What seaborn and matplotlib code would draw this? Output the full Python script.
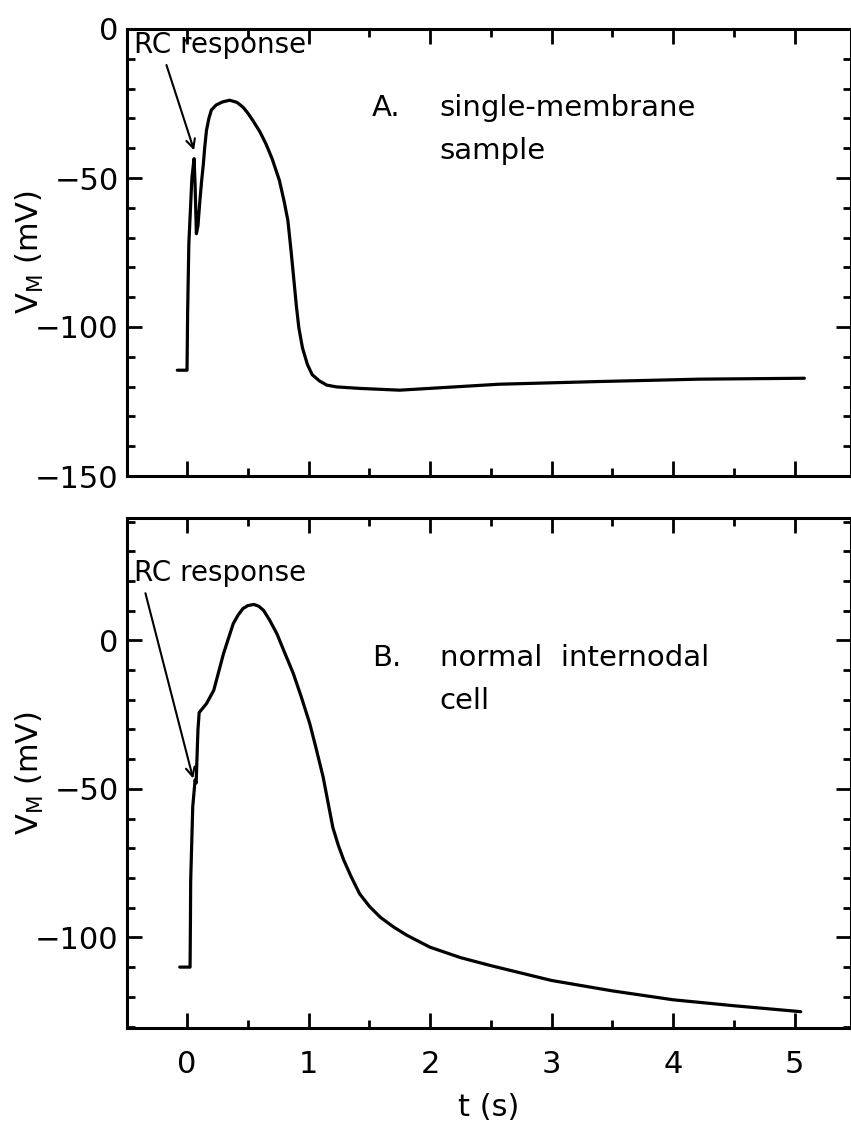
import numpy as np
import pandas as pd
import matplotlib
matplotlib.use("Agg")
import matplotlib.pyplot as plt
from matplotlib.ticker import MultipleLocator
import seaborn as sns

# ---- data ----
t_a = [-0.08, 0.0, 0.005, 0.015, 0.04, 0.058, 0.066, 0.077, 0.09, 0.105, 0.12, 0.134,
       0.145, 0.16, 0.18, 0.2, 0.24, 0.29, 0.35, 0.41, 0.46, 0.5, 0.54, 0.6, 0.65,
       0.7, 0.76, 0.8, 0.83, 0.855, 0.88, 0.9, 0.92, 0.95, 0.99, 1.03,
       1.09, 1.15, 1.23, 1.42, 1.75, 2.57, 3.39, 4.22, 5.08]
v_a = [-114.5, -114.5, -95, -72, -50, -43.5, -52, -68.7, -66, -58, -51, -45.5,
       -40, -34, -30, -27.2, -25.5, -24.5, -23.9, -24.6, -26.2, -28.2, -30.6, -34.5, -38.6,
       -43.5, -50.8, -58, -64.3, -74, -84.5, -93, -100.2, -107, -112.5, -116,
       -118.1, -119.5, -120.1, -120.6, -121.2, -119.2, -118.3, -117.5, -117.2]

t_b = [-0.06, 0.025, 0.028, 0.03, 0.047, 0.06, 0.066, 0.075, 0.09, 0.1, 0.16,
       0.22, 0.3, 0.38, 0.42, 0.46, 0.5, 0.55, 0.59, 0.63, 0.68, 0.74, 0.8, 0.875,
       0.94, 1.01, 1.06, 1.12, 1.16, 1.2, 1.245, 1.29, 1.35, 1.42, 1.5, 1.59, 1.7,
       1.81, 2.0, 2.25, 2.5, 2.75, 3.0, 3.5, 4.0, 4.5, 5.05]
v_b = [-110, -110, -95, -81, -56, -50, -47, -48, -30, -24.3, -21.3,
       -16.8, -4.5, 5.6, 8.5, 10.7, 11.7, 12.1, 11.5, 10.1, 6.8, 2.2, -3.8, -11.2,
       -19, -28, -36, -46, -54.5, -63, -69, -74, -79.5, -85.3, -89.5, -93.2, -96.5,
       -99.3, -103.3, -106.8, -109.5, -112, -114.5, -118, -121, -123, -125]

x_ticks = [0, 1, 2, 3, 4, 5]
y_ticks_a = [0, -50, -100, -150]
y_ticks_b = [0, -50, -100]
label_a = ["A.", "single-membrane", "sample"]
label_b = ["B.", "normal  internodal", "cell"]
rc_text = "RC response"

df_a = pd.DataFrame({"t": t_a, "v": v_a})
df_b = pd.DataFrame({"t": t_b, "v": v_b})

sns.set_style("ticks")
plt.rcParams["font.family"] = ["DejaVu Sans"]
plt.rcParams["axes.linewidth"] = 2.2

W, H = 851, 1133
fig = plt.figure(figsize=(W / 100, H / 100), dpi=100)
left = 127 / W
width = (850.5 - 127) / W
ax1 = fig.add_axes([left, 1 - 476 / H, width, (476 - 29) / H])
ax2 = fig.add_axes([left, 1 - 1028 / H, width, (1028 - 518) / H])

for ax, df in ((ax1, df_a), (ax2, df_b)):
    sns.lineplot(data=df, x="t", y="v", ax=ax, color="black", linewidth=2.3,
                 sort=False, estimator=None)
    ax.set_xlim(-0.494, 5.46)
    ax.xaxis.set_major_locator(MultipleLocator(1))
    ax.xaxis.set_minor_locator(MultipleLocator(0.5))
    ax.yaxis.set_major_locator(MultipleLocator(50))
    ax.yaxis.set_minor_locator(MultipleLocator(10))
    ax.tick_params(which="both", direction="in", top=True, right=True,
                   labelsize=22, colors="black")
    ax.tick_params(axis="y", pad=6)
    ax.tick_params(axis="x", pad=16)
    ax.tick_params(which="major", length=11, width=2)
    ax.tick_params(which="minor", length=5.5, width=2)
    ax.set_xlabel("")
    ax.set_ylabel(r"V$_\mathregular{M}$ (mV)", fontsize=22, color="black")
    for s in ax.spines.values():
        s.set_linewidth(2.2)
        s.set_color("black")

ax1.set_ylim(-150, 0)
ax1.set_yticks(y_ticks_a)
ax1.set_xticks(x_ticks)
ax1.tick_params(axis="x", labelbottom=False)
ax2.set_ylim(-130.5, 41.2)
ax2.set_yticks(y_ticks_b)
ax2.set_xticks(x_ticks)
ax2.set_xlabel("t (s)", fontsize=22, labelpad=10, color="black")

# panel labels
txt = dict(fontsize=21, va="center", ha="left", color="black")
ax1.text(1.52, -26.6, label_a[0], **txt)
ax1.text(2.08, -26.6, label_a[1], **txt)
ax1.text(2.08, -40.9, label_a[2], **txt)
ax2.text(1.52, -6.1, label_b[0], **txt)
ax2.text(2.08, -6.1, label_b[1], **txt)
ax2.text(2.08, -20.3, label_b[2], **txt)

# RC response annotations
ax1.annotate(rc_text, xy=(0.058, -40.7), xytext=(-0.44, -5.4),
             fontsize=20, va="center", ha="left", color="black",
             arrowprops=dict(arrowstyle="->", color="black", lw=1.5,
                             shrinkA=2, shrinkB=0, mutation_scale=16,
                             relpos=(0.18, 0.0)))
ax2.annotate(rc_text, xy=(0.05, -46.5), xytext=(-0.44, 22.6),
             fontsize=20, va="center", ha="left", color="black",
             arrowprops=dict(arrowstyle="->", color="black", lw=1.5,
                             shrinkA=2, shrinkB=0, mutation_scale=16,
                             relpos=(0.06, 0.0)))

ax1.yaxis.set_label_coords(-0.112, 0.5)
ax2.yaxis.set_label_coords(-0.112, 0.5)

fig.savefig("out.png", dpi=100)
